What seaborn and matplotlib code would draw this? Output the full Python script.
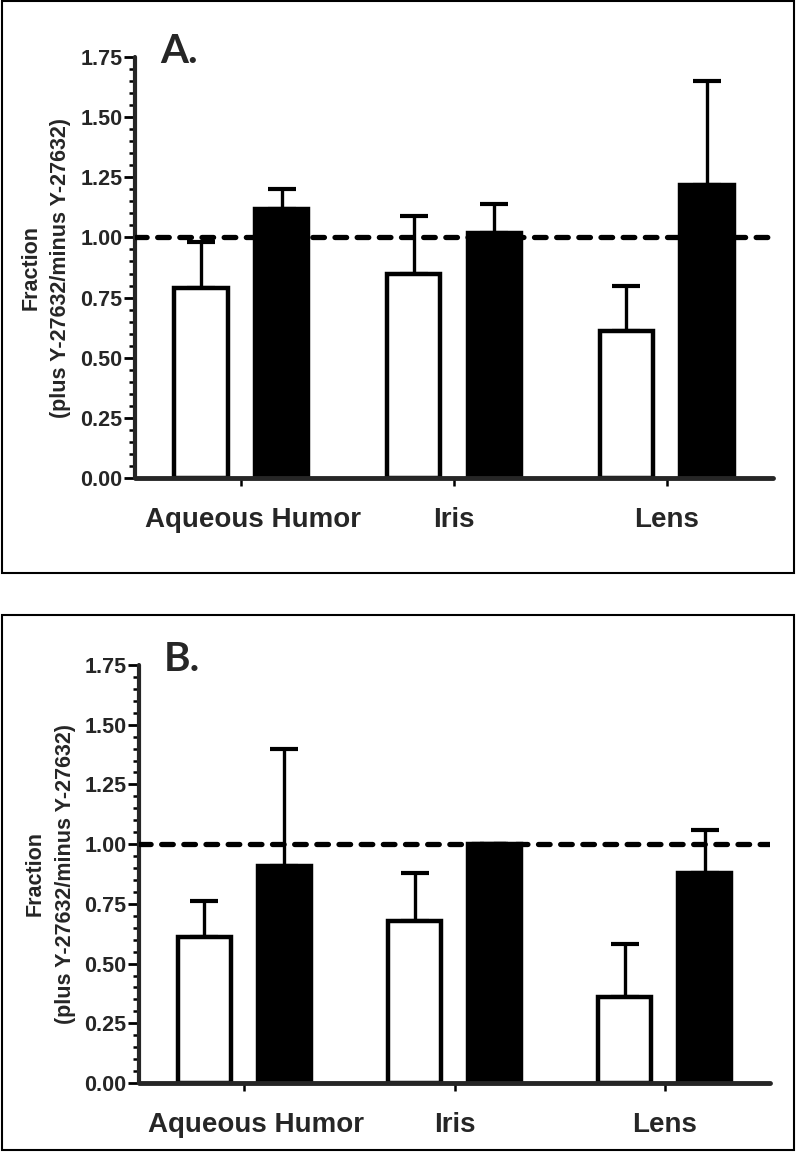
import numpy as np
import pandas as pd
import matplotlib
matplotlib.use("Agg")
import matplotlib.pyplot as plt
import matplotlib.transforms as mtransforms
import seaborn as sns
from matplotlib.patches import Rectangle
from matplotlib.ticker import MultipleLocator, FormatStrFormatter

# data
tissues = ["Aqueous Humor", "Iris", "Lens"]
groups = ["open", "filled"]

# panel A
a_open = [0.79, 0.85, 0.61]
a_open_sem = [0.19, 0.24, 0.19]
a_filled = [1.12, 1.02, 1.22]
a_filled_sem = [0.08, 0.12, 0.43]

# panel B
b_open = [0.61, 0.68, 0.36]
b_open_sem = [0.15, 0.20, 0.22]
b_filled = [0.91, 1.00, 0.88]
b_filled_sem = [0.49, 0.00, 0.18]

y_label = "Fraction\n(plus Y-27632/minus Y-27632)"

sns.set_theme(style="ticks")
plt.rcParams["font.family"] = ["Liberation Sans", "DejaVu Sans"]
plt.rcParams["font.weight"] = "bold"
plt.rcParams["axes.labelweight"] = "bold"


def draw_panel(ax, letter, open_vals, open_sem, filled_vals, filled_sem):
    df = pd.DataFrame({
        "tissue": tissues * 2,
        "group": ["open"] * 3 + ["filled"] * 3,
        "fraction": list(open_vals) + list(filled_vals),
    })
    sns.barplot(data=df, x="tissue", y="fraction", hue="group",
                hue_order=groups, order=tissues,
                palette={"open": "white", "filled": "black"},
                edgecolor="black", linewidth=3.2, width=0.76, gap=0.34,
                errorbar=None, legend=False, ax=ax, zorder=2)

    # upper error bars only
    for cont, sem in zip(ax.containers, [open_sem, filled_sem]):
        xs = [p.get_x() + p.get_width() / 2 for p in cont.patches]
        hs = [p.get_height() for p in cont.patches]
        ax.errorbar(xs, hs, yerr=[np.zeros(len(sem)), sem], fmt="none",
                    ecolor="black", elinewidth=2.4, capsize=10, capthick=3,
                    zorder=1.5)

    ax.axhline(1.0, color="black", lw=3.8, ls=(0, (2.2, 2.0)),
               dash_capstyle="round", zorder=3)

    ax.set_xlim(-0.5, 2.5)
    ax.set_ylim(0, 1.75)
    ax.yaxis.set_major_locator(MultipleLocator(0.25))
    ax.yaxis.set_minor_locator(MultipleLocator(0.05))
    ax.yaxis.set_major_formatter(FormatStrFormatter("%.2f"))

    sns.despine(ax=ax)
    ax.spines["left"].set_linewidth(3)
    ax.spines["bottom"].set_linewidth(3.5)
    ax.spines["bottom"].set_capstyle("round")
    ax.spines["left"].set_capstyle("round")

    ax.tick_params(axis="y", which="major", length=8, width=2, pad=1,
                   labelsize=15.5, color="black")
    ax.tick_params(axis="y", which="minor", length=4, width=1.8,
                   color="black")
    ax.tick_params(axis="x", which="major", length=6, width=1.8, pad=15,
                   labelsize=20, color="black")
    ax.tick_params(axis="x", which="minor", length=0)

    # the first category label sits a little right of its tick in the original
    shift = mtransforms.ScaledTranslation(0.12, 0, ax.figure.dpi_scale_trans)
    first = ax.get_xticklabels()[0]
    first.set_transform(first.get_transform() + shift)

    ax.set_xlabel("")
    ax.set_ylabel(y_label, fontsize=15.5, fontweight="bold", linespacing=1.55)
    ax.yaxis.set_label_coords(-0.10, 0.5)

    ax.text(0.04, 0.986, letter, transform=ax.transAxes, fontsize=29,
            fontweight="bold", family=["Lato", "DejaVu Sans"],
            va="baseline", ha="left")


fig = plt.figure(figsize=(7.97, 11.52), dpi=100)

ax_a = fig.add_axes([135 / 797, 1 - 478 / 1152, 638 / 797, 421 / 1152])
ax_b = fig.add_axes([139 / 797, 1 - 1083 / 1152, 631 / 797, 418 / 1152])

draw_panel(ax_a, "A.", a_open, a_open_sem, a_filled, a_filled_sem)
draw_panel(ax_b, "B.", b_open, b_open_sem, b_filled, b_filled_sem)

# panel frames
fig.patches.append(Rectangle((2 / 797, 1 - 573 / 1152), 792 / 797, 572 / 1152,
                             transform=fig.transFigure, fill=False,
                             edgecolor="black", lw=1.5))
fig.patches.append(Rectangle((2 / 797, 1 - 1150 / 1152), 792 / 797, 535 / 1152,
                             transform=fig.transFigure, fill=False,
                             edgecolor="black", lw=1.5))

fig.savefig("out.png", dpi=100)
